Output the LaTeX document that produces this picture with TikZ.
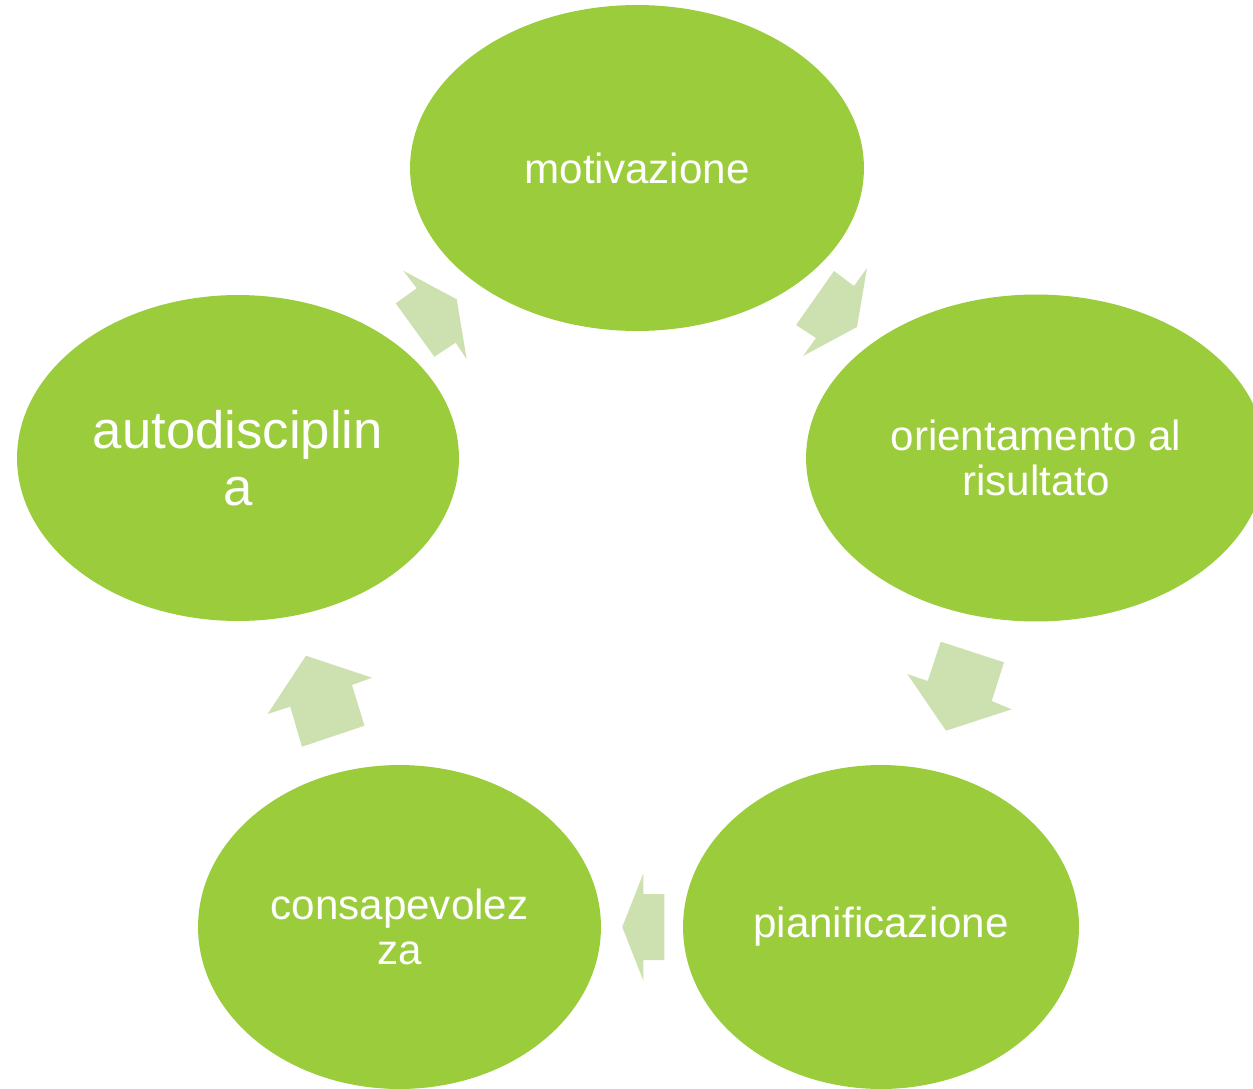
\documentclass[tikz,border=0pt]{standalone}
\usepackage{fontspec}
\setmainfont{Liberation Sans}
\usetikzlibrary{shapes,calc}
\definecolor{leafgreen}{RGB}{154,204,59}
\definecolor{palegreen}{RGB}{205,225,176}

\begin{document}
\begin{tikzpicture}[x=0.02cm,y=-0.02cm]
    \tikzstyle{stage} = [shape=ellipse, fill=leafgreen, inner sep=0pt, text=white, align=center, font=\fontsize{24}{25.6}\selectfont];
    \tikzstyle{flow} = [fill=palegreen];

    \useasboundingbox (0,0) rectangle (1253,1088);

    % Nodes
    \node [stage, minimum width=9.08cm, minimum height=6.52cm] (mot) at (637,168) {motivazione};
    \node [stage, minimum width=9.2cm, minimum height=6.54cm] (ori) at (1036,458) {orientamento al\\risultato};
    \node [stage, minimum width=7.92cm, minimum height=6.48cm] (pia) at (881,927) {pianificazione};
    \node [stage, minimum width=8.06cm, minimum height=6.48cm] (con) at (399.5,927) {consapevolez\\za};
    \node [stage, minimum width=8.84cm, minimum height=6.52cm, font=\fontsize{30}{32.4}\selectfont] (aut) at (238,458) {autodisciplin\\a};

    \coordinate (m-o) at ($(mot)!0.5!(ori)$);
    \coordinate (o-p) at ($(ori)!0.5!(pia)$);
    \coordinate (p-c) at ($(pia)!0.5!(con)$);
    \coordinate (c-a) at ($(con)!0.5!(aut)$);
    \coordinate (a-m) at ($(aut)!0.5!(mot)$);

    % Paths
    \fill [flow, shift={(m-o)}] (-2.5,-42) -- (17.5,-27) -- (30.5,-45) -- (20.5,14) -- (-33.5,43) -- (-20.5,25) -- (-40.5,12) -- cycle;
    \fill [flow, shift={(o-p)}] (-17.8,-50.8) -- (45.5,-30.2) -- (33.2,8.5) -- (53.2,16.8) -- (-12.5,38.2) -- (-51.2,-18.5) -- (-30.8,-11.5) -- cycle;
    \fill [flow, shift={(p-c)}] (-18,0) -- (3,-53.5) -- (3,-33) -- (24,-33) -- (24,33) -- (3,33) -- (3,53.5) -- cycle;
    \fill [flow, shift={(c-a)}] (-12.8,-36.8) -- (53.2,-14.8) -- (33.2,-7.5) -- (45.8,33.2) -- (-16.8,54.2) -- (-28.5,14.2) -- (-51.2,21.5) -- cycle;
    \fill [flow, shift={(a-m)}] (-34.2,-42.3) -- (-20.8,-24.7) -- (-41.8,-9.7) -- (-3.2,43.7) -- (18.2,29.7) -- (29.2,46.3) -- (19.2,-13.7) -- cycle;
\end{tikzpicture}
\end{document}
